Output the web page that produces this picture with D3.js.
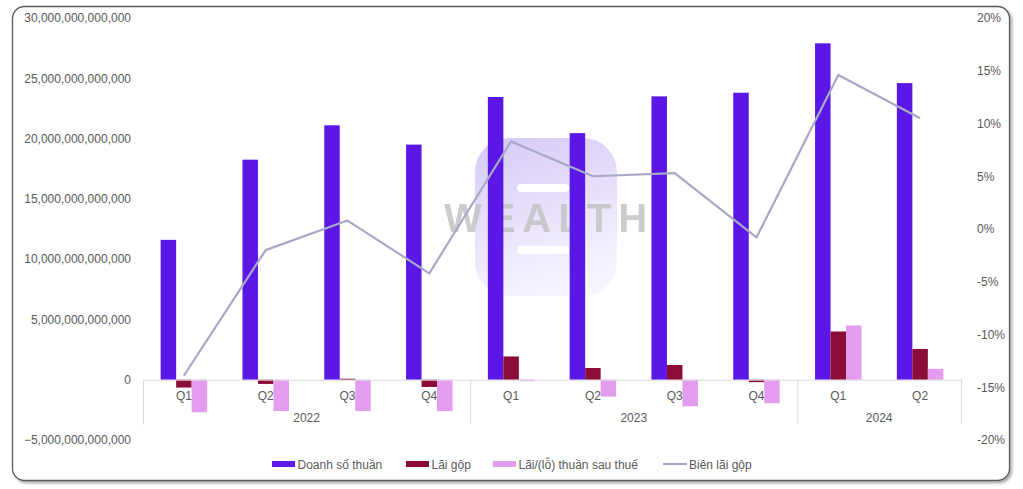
<!DOCTYPE html>
<html><head><meta charset="utf-8">
<script src="https://cdn.jsdelivr.net/npm/d3@7"></script>
<style>
body{margin:0;background:#fff;}
svg{display:block;font-family:"Liberation Sans",Arial,sans-serif;}
</style></head>
<body><svg id="c" width="1023" height="489"></svg>
<script>
const quarters = ["Q1","Q2","Q3","Q4","Q1","Q2","Q3","Q4","Q1","Q2"];
const years = ["2022","2022","2022","2022","2023","2023","2023","2023","2024","2024"];
const revenue = [11.6e12,18.25e12,21.1e12,19.5e12,23.45e12,20.45e12,23.5e12,23.8e12,27.9e12,24.6e12];
const grossProfit = [-0.65e12,-0.35e12,0.08e12,-0.6e12,1.93e12,0.97e12,1.22e12,-0.2e12,4.0e12,2.55e12];
const netProfit = [-2.7e12,-2.6e12,-2.6e12,-2.6e12,-0.12e12,-1.4e12,-2.2e12,-1.95e12,4.5e12,0.9e12];
const grossMargin = [-13.9,-2.0,0.8,-4.2,8.3,5.0,5.3,-0.8,14.6,10.5];
const leftTicks = [-5e12,0,5e12,10e12,15e12,20e12,25e12,30e12];
const rightTicks = [-20,-15,-10,-5,0,5,10,15,20];
const seriesNames = ["Doanh số thuần","Lãi gộp","Lãi/(lỗ) thuần sau thuế","Biên lãi gộp"];
const colors = ["#5a17e5","#8c0c38","#e39cee","#a8a9c6"];

const svg = d3.select("#c");
const L = 143, R = 961, T = 18, B = 440;
const idx = d3.range(quarters.length);
const x = d3.scaleBand().domain(idx).range([L,R]).paddingInner(0).paddingOuter(0);
const yL = d3.scaleLinear().domain([-5e12,30e12]).range([B,T]);
const yR = d3.scaleLinear().domain([-20,20]).range([B,T]);

// border with shadow
const defs = svg.append("defs");
const f = defs.append("filter").attr("id","sh").attr("x","-5%").attr("y","-5%").attr("width","110%").attr("height","115%");
f.append("feDropShadow").attr("dx",2).attr("dy",2).attr("stdDeviation",1.5).attr("flood-color","#000").attr("flood-opacity",0.35);
svg.append("rect").attr("x",12.5).attr("y",6.5).attr("width",997).attr("height",474).attr("rx",12)
  .attr("fill","#fff").attr("stroke","#5a5a5a").attr("stroke-width",1.3).attr("filter","url(#sh)");

// watermark
const wm = svg.append("g");
const lg = defs.append("linearGradient").attr("id","wg").attr("x1","0").attr("y1","0").attr("x2","0.3").attr("y2","1");
lg.append("stop").attr("offset","0").attr("stop-color","#d6c9f7");
lg.append("stop").attr("offset","1").attr("stop-color","#f7f4fe");
wm.append("rect").attr("x",475).attr("y",138).attr("width",142).attr("height",158).attr("rx",34).attr("fill","url(#wg)");
wm.append("rect").attr("x",517).attr("y",184).attr("width",52).attr("height",8).attr("rx",4).attr("fill","#fff");
wm.append("rect").attr("x",517).attr("y",246).attr("width",52).attr("height",8).attr("rx",4).attr("fill","#fff");
wm.append("text").attr("x",549).attr("y",232).attr("text-anchor","middle").attr("font-size",40).attr("font-weight","bold")
  .attr("letter-spacing",7).attr("fill","#c4c4c4").attr("opacity",0.85).text("WEALTH");

// axes text
const lf = d3.format(",.0f");
const la = svg.append("g").attr("transform",`translate(${L-12},0)`)
  .call(d3.axisLeft(yL).tickValues(leftTicks).tickFormat(d=>lf(d)).tickSize(0).tickPadding(0));
la.select(".domain").remove();
la.selectAll("text").attr("font-size",12).attr("fill","#595959").attr("font-family","Liberation Sans, Arial, sans-serif");
const ra = svg.append("g").attr("transform",`translate(${R+16},0)`)
  .call(d3.axisRight(yR).tickValues(rightTicks).tickFormat(d=>d+"%").tickSize(0).tickPadding(0));
ra.select(".domain").remove();
ra.selectAll("text").attr("font-size",12).attr("fill","#595959").attr("font-family","Liberation Sans, Arial, sans-serif");

// bars
const bw = 15.5;
const series = [revenue,grossProfit,netProfit];
series.forEach((arr,si)=>{
  svg.append("g").selectAll("rect").data(arr).join("rect")
    .attr("x",(d,i)=>x(i)+x.bandwidth()/2 - 1.5*bw + si*bw)
    .attr("width",bw)
    .attr("y",d=>yL(Math.max(0,d)))
    .attr("height",d=>Math.max(1,Math.abs(yL(d)-yL(0))))
    .attr("fill",colors[si]);
});

// category axis
const y0 = yL(0);
svg.append("line").attr("x1",L).attr("x2",R).attr("y1",y0+0.5).attr("y2",y0+0.5).attr("stroke","#d9d9d9");
const yearGroups = d3.groups(idx, i=>years[i]);
const seps = [0];
yearGroups.forEach(([y,arr])=>seps.push(arr[arr.length-1]+1));
svg.append("g").selectAll("line").data(seps).join("line")
  .attr("x1",d=>d<quarters.length?x(d)+0.5:R+0.5).attr("x2",d=>d<quarters.length?x(d)+0.5:R+0.5)
  .attr("y1",y0).attr("y2",y0+45).attr("stroke","#d9d9d9");
svg.append("g").selectAll("text").data(idx).join("text")
  .attr("x",i=>x(i)+x.bandwidth()/2).attr("y",y0+20).attr("text-anchor","middle")
  .attr("font-size",12).attr("fill","#595959").text(i=>quarters[i]);
svg.append("g").selectAll("text").data(yearGroups).join("text")
  .attr("x",([y,arr])=>(x(arr[0])+x(arr[arr.length-1])+x.bandwidth())/2).attr("y",y0+42).attr("text-anchor","middle")
  .attr("font-size",12).attr("fill","#595959").text(([y])=>y);

// line
svg.append("path").datum(grossMargin)
  .attr("d",d3.line().x((d,i)=>x(i)+x.bandwidth()/2).y(d=>yR(d)))
  .attr("fill","none").attr("stroke",colors[3]).attr("stroke-width",2.2).attr("stroke-linejoin","round");

// legend
const legX = [272,406,493,663];
const leg = svg.append("g");
seriesNames.forEach((n,i)=>{
  if(i<3) leg.append("rect").attr("x",legX[i]).attr("y",461).attr("width",23).attr("height",6).attr("fill",colors[i]);
  else leg.append("line").attr("x1",legX[i]).attr("x2",legX[i]+24).attr("y1",464).attr("y2",464).attr("stroke",colors[i]).attr("stroke-width",2.2);
  leg.append("text").attr("x",legX[i]+(i<3?25.5:26)).attr("y",468.5).attr("font-size",12).attr("fill","#595959").text(n);
});
</script></body></html>
